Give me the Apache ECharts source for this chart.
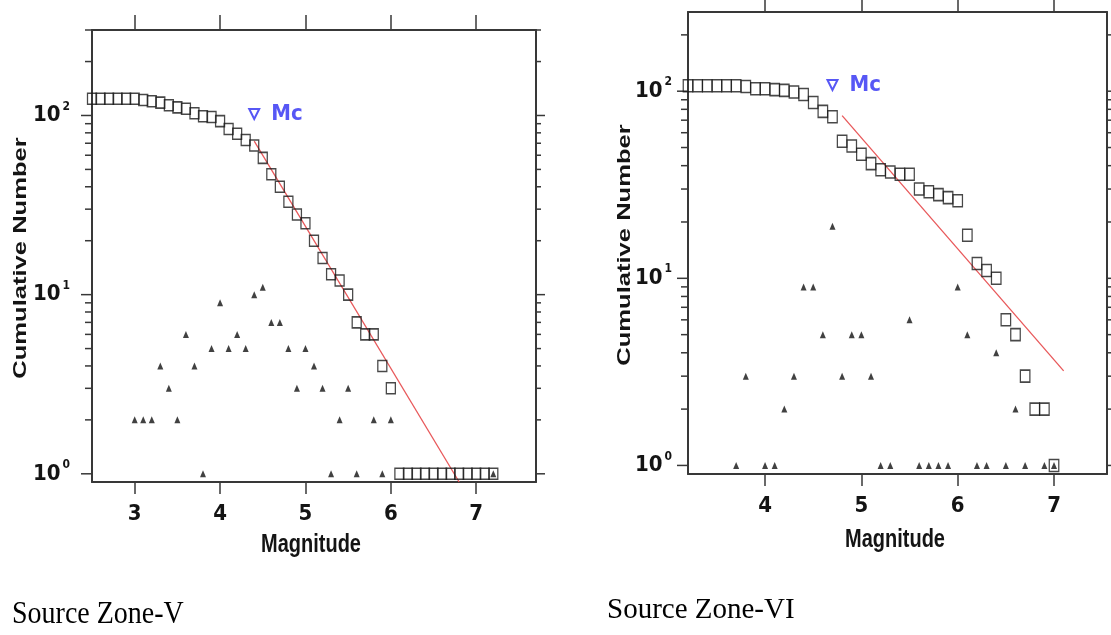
<!DOCTYPE html>
<html>
<head>
<meta charset="utf-8">
<script src="https://cdn.jsdelivr.net/npm/echarts@6/dist/echarts.min.js"></script>
<style>
  html, body { margin: 0; padding: 0; background: #ffffff; }
  #chart { width: 1111px; height: 635px; }
</style>
</head>
<body>
<div id="chart"></div>
<script>
// ---- Source Zone-V ----
const magV = [2.5, 2.6, 2.7, 2.8, 2.9, 3.0, 3.1, 3.2, 3.3, 3.4, 3.5, 3.6, 3.7, 3.8, 3.9,
  4.0, 4.1, 4.2, 4.3, 4.4, 4.5, 4.6, 4.7, 4.8, 4.9, 5.0, 5.1, 5.2, 5.3, 5.4, 5.5, 5.6,
  5.7, 5.8, 5.9, 6.0, 6.1, 6.2, 6.3, 6.4, 6.5, 6.6, 6.7, 6.8, 6.9, 7.0, 7.1, 7.2];
const cumulativeV = [124, 124, 124, 124, 124, 124, 122, 120, 118, 114, 111, 109, 103, 99, 98,
  93, 84, 79, 73, 68, 58, 47, 40, 33, 28, 25, 20, 16, 13, 12, 10, 7,
  6, 6, 4, 3, 1, 1, 1, 1, 1, 1, 1, 1, 1, 1, 1, 1];
const binMagV = [3.0, 3.1, 3.2, 3.3, 3.4, 3.5, 3.6, 3.7, 3.8, 3.9, 4.0, 4.1, 4.2, 4.3, 4.4,
  4.5, 4.6, 4.7, 4.8, 4.9, 5.0, 5.1, 5.2, 5.3, 5.4, 5.5, 5.6, 5.8, 5.9, 6.0, 7.2];
const binCountV = [2, 2, 2, 4, 3, 2, 6, 4, 1, 5, 9, 5, 6, 5, 10,
  11, 7, 7, 5, 3, 5, 4, 3, 1, 2, 3, 1, 2, 1, 2, 1];
const fitLineV = [[4.4, 72], [6.8, 0.9]];
const mcPointV = [4.4, 102];

// ---- Source Zone-VI ----
const magVI = [3.2, 3.3, 3.4, 3.5, 3.6, 3.7, 3.8, 3.9, 4.0, 4.1, 4.2, 4.3, 4.4, 4.5, 4.6,
  4.7, 4.8, 4.9, 5.0, 5.1, 5.2, 5.3, 5.4, 5.5, 5.6, 5.7, 5.8, 5.9, 6.0, 6.1, 6.2, 6.3,
  6.4, 6.5, 6.6, 6.7, 6.8, 6.9, 7.0];
const cumulativeVI = [107, 107, 107, 107, 107, 107, 106, 103, 103, 102, 101, 99, 96, 87, 78,
  73, 54, 51, 46, 41, 38, 37, 36, 36, 30, 29, 28, 27, 26, 17, 12, 11,
  10, 6, 5, 3, 2, 2, 1];
const binMagVI = [3.7, 3.8, 4.0, 4.1, 4.2, 4.3, 4.4, 4.5, 4.6, 4.7, 4.8, 4.9, 5.0, 5.1, 5.2,
  5.3, 5.5, 5.6, 5.7, 5.8, 5.9, 6.0, 6.1, 6.2, 6.3, 6.4, 6.5, 6.6, 6.7, 6.9, 7.0];
const binCountVI = [1, 3, 1, 1, 2, 3, 9, 9, 5, 19, 3, 5, 5, 3, 1,
  1, 6, 1, 1, 1, 1, 9, 5, 1, 1, 4, 1, 2, 1, 1, 1];
const fitLineVI = [[4.8, 74], [7.1, 3.2]];
const mcPointVI = [4.7, 108];

// ---- axes ----
const xTicksV = [3, 4, 5, 6, 7];
const xTicksVI = [4, 5, 6, 7];
const yMajorTicks = [1, 10, 100];
const yMinorTicks = [2, 3, 4, 5, 6, 7, 8, 9, 20, 30, 40, 50, 60, 70, 80, 90, 200, 300];

const NARROW = '"Liberation Sans Narrow", "Arial Narrow", "DejaVu Sans Condensed", sans-serif';
const INK = '#141414';
const FRAME = '#383838';
const MC_BLUE = '#2d2df2';
const FIT_RED = '#e8585a';

const panels = [
  { xMin: 2.5, xMax: 7.7, yMin: 0.9, yMax: 300, xTicks: xTicksV, labelMargin: 22, xMargin: 20,
    mags: magV, cum: cumulativeV, binMags: binMagV, bins: binCountV, fit: fitLineV, mc: mcPointV,
    rect: { left: 92, top: 30, width: 444, height: 452 }, square: [9, 11] },
  { xMin: 3.2, xMax: 7.55, yMin: 0.9, yMax: 265, xTicks: xTicksVI, labelMargin: 16, xMargin: 20,
    mags: magVI, cum: cumulativeVI, binMags: binMagVI, bins: binCountVI, fit: fitLineVI, mc: mcPointVI,
    rect: { left: 688, top: 12, width: 419, height: 462 }, square: [9.5, 12] }
];

function powerLabel(v) {
  const e = Math.round(Math.log10(v));
  if (Math.abs(v - Math.pow(10, e)) > 1e-6 * v) return '';
  return '{b|10}{s|' + e + '}';
}

const tickFont = { fontFamily: NARROW, fontWeight: 'bold', fontSize: 22, color: INK };
const frameLine = { color: FRAME, width: 2 };
const tickLine = { color: FRAME, width: 1.5 };

const grid = [], xAxis = [], yAxis = [], series = [];

panels.forEach((p, i) => {
  grid.push(Object.assign({ containLabel: false }, p.rect));

  xAxis.push({
    gridIndex: i, type: 'value', min: p.xMin, max: p.xMax, position: 'bottom',
    axisLine: { show: true, onZero: false, lineStyle: frameLine },
    axisTick: { show: true, length: 12, customValues: p.xTicks, lineStyle: tickLine },
    axisLabel: Object.assign({ customValues: p.xTicks, margin: p.xMargin, lineHeight: 24 }, tickFont),
    splitLine: { show: false }
  });
  xAxis.push({
    gridIndex: i, type: 'value', min: p.xMin, max: p.xMax, position: 'top',
    axisLine: { show: true, onZero: false, lineStyle: frameLine },
    axisTick: { show: true, length: 15, customValues: p.xTicks, lineStyle: tickLine },
    axisLabel: { show: false },
    splitLine: { show: false }
  });

  yAxis.push({
    gridIndex: i, type: 'log', logBase: 10, min: p.yMin, max: p.yMax, position: 'left',
    axisLine: { show: true, onZero: false, lineStyle: frameLine },
    axisTick: { show: false },
    minorTick: { show: false },
    splitLine: { show: false },
    axisLabel: {
      margin: p.labelMargin,
      formatter: powerLabel,
      rich: {
        b: { fontFamily: NARROW, fontWeight: 'bold', fontSize: 22, lineHeight: 30, color: INK },
        s: { fontFamily: NARROW, fontWeight: 'bold', fontSize: 12, lineHeight: 12, verticalAlign: 'top', color: INK, padding: [0, 0, 0, 2] }
      }
    }
  });
  yAxis.push({
    gridIndex: i, type: 'log', logBase: 10, min: p.yMin, max: p.yMax, position: 'right',
    axisLine: { show: true, onZero: false, lineStyle: frameLine },
    axisTick: { show: false },
    axisLabel: { show: false },
    splitLine: { show: false }
  });

  const xa = 2 * i, ya = 2 * i;

  // log-axis ticks on both sides of the frame
  const tickData = yMajorTicks.map(v => [p.xMin, v, 1])
    .concat(yMinorTicks.filter(v => v <= p.yMax).map(v => [p.xMin, v, 0]));
  series.push({
    type: 'custom', xAxisIndex: xa, yAxisIndex: ya, clip: false, silent: true, z: 1,
    encode: { x: 0, y: 1 },
    data: tickData,
    renderItem: function (params, api) {
      const cs = params.coordSys;
      const y = api.coord([api.value(0), api.value(1)])[1];
      const major = api.value(2) === 1;
      const lenL = major ? 11 : 7;
      const lenR = major ? 9 : 5;
      const style = { stroke: FRAME, lineWidth: 1.5 };
      return {
        type: 'group',
        children: [
          { type: 'line', shape: { x1: cs.x - lenL, y1: y, x2: cs.x, y2: y }, style: style },
          { type: 'line', shape: { x1: cs.x + cs.width, y1: y, x2: cs.x + cs.width + lenR, y2: y }, style: style }
        ]
      };
    }
  });

  // cumulative number (open squares)
  series.push({
    type: 'scatter', xAxisIndex: xa, yAxisIndex: ya, z: 3,
    symbol: 'rect', symbolSize: p.square,
    itemStyle: { color: 'rgba(0,0,0,0)', borderColor: '#1a1a1a', borderWidth: 1.4 },
    data: p.mags.map((m, k) => [m, p.cum[k]])
  });

  // events per magnitude bin (small triangles)
  series.push({
    type: 'scatter', xAxisIndex: xa, yAxisIndex: ya, z: 3,
    symbol: 'triangle', symbolSize: [6, 7],
    itemStyle: { color: '#111111' },
    data: p.binMags.map((m, k) => [m, p.bins[k]])
  });

  // Gutenberg-Richter fit
  series.push({
    type: 'line', xAxisIndex: xa, yAxisIndex: ya, z: 2,
    symbol: 'none', clip: true,
    lineStyle: { color: FIT_RED, width: 1.3 },
    data: p.fit
  });

  // magnitude of completeness marker
  series.push({
    type: 'scatter', xAxisIndex: xa, yAxisIndex: ya, z: 4,
    symbol: 'triangle', symbolRotate: 180, symbolSize: [10, 10],
    itemStyle: { color: 'rgba(0,0,0,0)', borderColor: MC_BLUE, borderWidth: 2 },
    label: {
      show: true, position: 'right', distance: 11, formatter: 'Mc',
      fontFamily: NARROW, fontWeight: 'bold', fontSize: 22, color: MC_BLUE
    },
    data: [p.mc]
  });
});

// axis titles and panel captions
function title(text, x, y, opts) {
  return Object.assign({
    type: 'text', x: x, y: y, silent: true,
    style: Object.assign({
      text: text, fill: INK,
      align: 'center', verticalAlign: 'middle',
      textAlign: 'center', textVerticalAlign: 'middle'
    }, opts.style)
  }, opts.transform);
}

const sansBold = 'bold 18px "Liberation Sans", Arial, sans-serif';
const graphic = [
  title('Cumulative Number', 21, 258, { style: { font: sansBold }, transform: { rotation: Math.PI / 2, scaleX: 1.42 } }),
  title('Cumulative Number', 625, 245, { style: { font: sansBold }, transform: { rotation: Math.PI / 2, scaleX: 1.42 } }),
  title('Magnitude', 311, 545, { style: { font: 'bold 20px "Liberation Sans", Arial, sans-serif' }, transform: { scaleY: 1.3 } }),
  title('Magnitude', 895, 540, { style: { font: 'bold 20px "Liberation Sans", Arial, sans-serif' }, transform: { scaleY: 1.3 } }),
  title('Source Zone-V', 12, 615, {
    style: { font: '28px "Liberation Serif", "Times New Roman", serif', fill: '#000', align: 'left', textAlign: 'left' },
    transform: { scaleY: 1.1 }
  }),
  title('Source Zone-VI', 607, 610, {
    style: { font: '29px "Liberation Serif", "Times New Roman", serif', fill: '#000', align: 'left', textAlign: 'left' },
    transform: { scaleY: 1.0 }
  })
];

const chart = echarts.init(document.getElementById('chart'), null, { renderer: 'canvas' });
chart.setOption({
  animation: false,
  backgroundColor: '#ffffff',
  grid: grid,
  xAxis: xAxis,
  yAxis: yAxis,
  series: series,
  graphic: graphic
});
</script>
</body>
</html>
